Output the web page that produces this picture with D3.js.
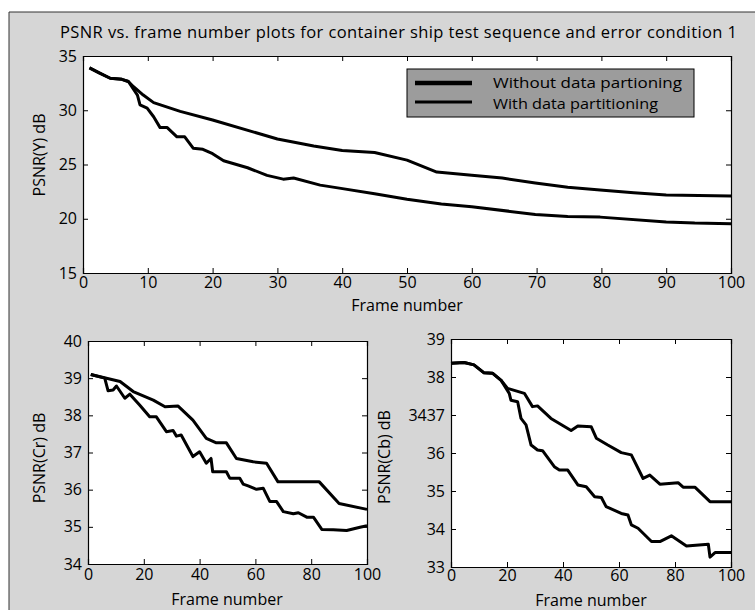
<!DOCTYPE html>
<html><head><meta charset="utf-8">
<script src="https://cdnjs.cloudflare.com/ajax/libs/d3/7.8.5/d3.min.js"></script>
<style>
html,body{margin:0;padding:0;background:#fff;}
svg text{font-family:"Open Sans","Noto Sans",sans-serif;fill:#000;}
</style></head>
<body><svg id="fig" width="755" height="610"></svg>
<script>
// ---------- DATA ----------
const titleText = "PSNR vs. frame number plots for container ship test sequence and error condition 1";
const seriesNames = ["Without data partioning", "With data partitioning"];

// Top panel: PSNR(Y)
const yTicksTop = [15, 20, 25, 30, 35];
const xTicksTop = [0, 10, 20, 30, 40, 50, 60, 70, 80, 90, 100];
const topWithFrames = [1, 2.5, 4.2, 6, 7, 7.8, 9.3, 10.9, 15, 20, 30, 35.6, 40, 45, 50, 54.6, 60, 64.7, 69.8, 74.8, 79.8, 85, 90, 100];
const topWithPSNR   = [33.9, 33.45, 32.95, 32.85, 32.65, 32.17, 31.4, 30.7, 29.9, 29.1, 27.35, 26.7, 26.3, 26.1, 25.4, 24.3, 24.0, 23.75, 23.3, 22.9, 22.65, 22.4, 22.2, 22.1];
const topWithoutFrames = [1, 2.5, 4.2, 6, 7, 8.4, 8.8, 9.9, 10.9, 11.9, 13, 14.5, 15.7, 17, 18.5, 20, 21.7, 25.4, 28.4, 30.9, 32.5, 36.6, 39.8, 45, 50, 55.3, 60, 69.8, 74.8, 79.8, 90, 94.4, 100];
const topWithoutPSNR   = [33.9, 33.45, 32.95, 32.85, 32.65, 31.4, 30.5, 30.2, 29.4, 28.4, 28.4, 27.55, 27.55, 26.5, 26.4, 26.0, 25.35, 24.7, 24.0, 23.65, 23.75, 23.1, 22.8, 22.3, 21.8, 21.35, 21.1, 20.4, 20.2, 20.15, 19.7, 19.6, 19.55];

// Bottom-left panel: PSNR(Cr)
const yTicksCr = [34, 35, 36, 37, 38, 39, 40];
const xTicksSmall = [0, 20, 40, 60, 80, 100];
const crWithFrames = [1, 11.5, 16.2, 23.4, 27.6, 32.3, 37.6, 42.4, 46, 49.6, 53.2, 59.2, 64, 68.1, 72.3, 82.9, 90, 100];
const crWithPSNR   = [39.1, 38.91, 38.64, 38.41, 38.23, 38.25, 37.87, 37.38, 37.26, 37.26, 36.84, 36.75, 36.71, 36.21, 36.21, 36.21, 35.63, 35.47];
const crWithoutFrames = [1, 6, 7.2, 9, 10.2, 13.2, 15, 18.5, 22.1, 24.5, 28.1, 30.5, 31.7, 33.4, 37.6, 40, 42.4, 44.1, 44.7, 49.6, 50.8, 54.4, 55.6, 57.4, 60.4, 62.8, 65.2, 67.6, 70, 73.6, 75.4, 78.4, 80.8, 83.8, 87.9, 92.7, 97.5, 100];
const crWithoutPSNR   = [39.1, 39.0, 38.66, 38.68, 38.79, 38.46, 38.57, 38.28, 37.96, 37.96, 37.56, 37.59, 37.44, 37.47, 36.89, 37.02, 36.71, 36.84, 36.48, 36.48, 36.31, 36.31, 36.15, 36.10, 36.01, 36.04, 35.68, 35.68, 35.41, 35.35, 35.38, 35.26, 35.26, 34.93, 34.92, 34.9, 34.99, 35.03];

// Bottom-right panel: PSNR(Cb)
const yTicksCb = [33, 34, 35, 36, 37, 38, 39];
const yTickLabelsCb = ["33", "34", "35", "36", "3437", "38", "39"];
const cbWithFrames = [0, 4.7, 8.2, 11.8, 14.8, 17.8, 20.2, 26.2, 29.1, 30.9, 35.7, 42.9, 45.3, 50.1, 51.9, 56, 60.8, 64.4, 68.6, 71, 74.6, 81.1, 82.9, 87.1, 92.5, 100];
const cbWithPSNR   = [38.36, 38.38, 38.32, 38.11, 38.10, 37.92, 37.70, 37.57, 37.22, 37.24, 36.91, 36.59, 36.71, 36.69, 36.39, 36.21, 36.01, 35.95, 35.33, 35.42, 35.18, 35.22, 35.10, 35.10, 34.72, 34.72];
const cbWithoutFrames = [0, 4.7, 8.2, 11.8, 14.8, 17.8, 20.8, 21.4, 23.8, 25, 26.8, 28.6, 30.9, 32.7, 36.9, 38.7, 41.7, 45.3, 48.3, 51.3, 53.7, 55.4, 60.8, 63.2, 64.4, 66.8, 71.6, 74.6, 78.7, 84.1, 91.9, 92.5, 94.3, 100];
const cbWithoutPSNR   = [38.36, 38.38, 38.32, 38.11, 38.10, 37.92, 37.57, 37.39, 37.35, 36.91, 36.74, 36.21, 36.08, 36.06, 35.64, 35.55, 35.55, 35.16, 35.11, 34.85, 34.83, 34.59, 34.41, 34.37, 34.11, 34.02, 33.67, 33.67, 33.82, 33.55, 33.6, 33.26, 33.38, 33.38];

// ---------- DRAW ----------
const FONT = '"Open Sans","Noto Sans",sans-serif';
const svg = d3.select("#fig");
svg.append("rect").attr("x", 0).attr("y", 0).attr("width", 755).attr("height", 610).attr("fill", "#fff");
svg.append("rect").attr("x", 9).attr("y", 12).attr("width", 746).attr("height", 598).attr("fill", "#d6d6d6");
svg.append("path").attr("d", "M9,610V12H755").attr("fill", "none").attr("stroke", "#333").attr("stroke-width", 1);

svg.append("text").attr("x", 60).attr("y", 38)
  .attr("font-size", 16.5).attr("textLength", 677).attr("lengthAdjust", "spacing").text(titleText);

function drawPanel(o) {
  const x = d3.scaleLinear().domain([0, 100]).range([o.x0, o.x1]);
  const y = d3.scaleLinear().domain(o.yDomain).range([o.y1, o.y0]);
  const g = svg.append("g");
  g.append("rect").attr("x", o.x0).attr("y", o.y0).attr("width", o.x1 - o.x0).attr("height", o.y1 - o.y0)
    .attr("fill", "#fff");
  const tl = 5;
  g.append("g").attr("transform", `translate(0,${o.y1})`)
    .call(d3.axisBottom(x).tickValues(o.xTicks).tickSize(-tl).tickPadding(o.xPad).tickFormat(d3.format("d")));
  g.append("g").attr("transform", `translate(0,${o.y0})`)
    .call(d3.axisTop(x).tickValues(o.xTicks).tickSize(-tl).tickFormat(""));
  g.append("g").attr("transform", `translate(${o.x0},0)`)
    .call(d3.axisLeft(y).tickValues(o.yTicks).tickSize(-tl).tickPadding(6)
      .tickFormat((d, i) => o.yLabels ? o.yLabels[i] : d));
  g.append("g").attr("transform", `translate(${o.x1},0)`)
    .call(d3.axisRight(y).tickValues(o.yTicks).tickSize(-tl).tickFormat(""));
  g.selectAll(".domain").attr("stroke", "#000").attr("stroke-width", 1.2);
  g.selectAll(".tick line").attr("stroke", "#000");
  g.selectAll(".tick text").attr("font-size", 16).attr("font-family", FONT).attr("fill", "#000");

  const line = d3.line().x(d => x(d[0])).y(d => y(d[1]));
  o.series.forEach(s => {
    g.append("path").datum(d3.zip(s.f, s.v)).attr("d", line)
      .attr("fill", "none").attr("stroke", "#000").attr("stroke-width", 3).attr("stroke-linejoin", "round");
  });
  g.append("text").attr("x", o.xLabelX).attr("y", o.xLabelY).attr("text-anchor", "middle")
    .attr("font-size", 16).text("Frame number");
  g.append("text").attr("transform", `translate(${o.yLabelX},${o.yLabelY}) rotate(-90)`)
    .attr("text-anchor", "middle").attr("font-size", 16).text(o.yLabel);
  return { x, y, g };
}

drawPanel({
  x0: 83, x1: 731, y0: 56, y1: 273, yDomain: [15, 35], xPad: 4,
  xTicks: xTicksTop, yTicks: yTicksTop, yLabel: "PSNR(Y) dB", yLabelX: 45, yLabelY: 155,
  xLabelX: 407, xLabelY: 311,
  series: [{ f: topWithFrames, v: topWithPSNR }, { f: topWithoutFrames, v: topWithoutPSNR }]
});
drawPanel({
  x0: 88, x1: 367, y0: 341, y1: 564, yDomain: [34, 40], xPad: 5,
  xTicks: xTicksSmall, yTicks: yTicksCr, yLabel: "PSNR(Cr) dB", yLabelX: 45, yLabelY: 458,
  xLabelX: 227, xLabelY: 605,
  series: [{ f: crWithFrames, v: crWithPSNR }, { f: crWithoutFrames, v: crWithoutPSNR }]
});
drawPanel({
  x0: 451, x1: 731, y0: 339, y1: 567, yDomain: [33, 39], xPad: 3,
  xTicks: xTicksSmall, yTicks: yTicksCb, yLabels: yTickLabelsCb, yLabel: "PSNR(Cb) dB", yLabelX: 390, yLabelY: 457,
  xLabelX: 591, xLabelY: 606,
  series: [{ f: cbWithFrames, v: cbWithPSNR }, { f: cbWithoutFrames, v: cbWithoutPSNR }]
});

// legend
const lg = svg.append("g");
lg.append("rect").attr("x", 407).attr("y", 69).attr("width", 287).attr("height", 48)
  .attr("fill", "#9c9c9c").attr("stroke", "#000").attr("stroke-width", 1);
const legendWidths = [4.5, 3];
const legendTextLen = [189, 165];
seriesNames.forEach((name, i) => {
  const ly = 83 + i * 19;
  lg.append("line").attr("x1", 415).attr("x2", 472).attr("y1", ly).attr("y2", ly)
    .attr("stroke", "#000").attr("stroke-width", legendWidths[i]);
  lg.append("text").attr("x", 493).attr("y", 88 + i * 20.6).attr("font-size", 15)
    .attr("textLength", legendTextLen[i]).attr("lengthAdjust", "spacingAndGlyphs").text(name);
});
</script></body></html>
